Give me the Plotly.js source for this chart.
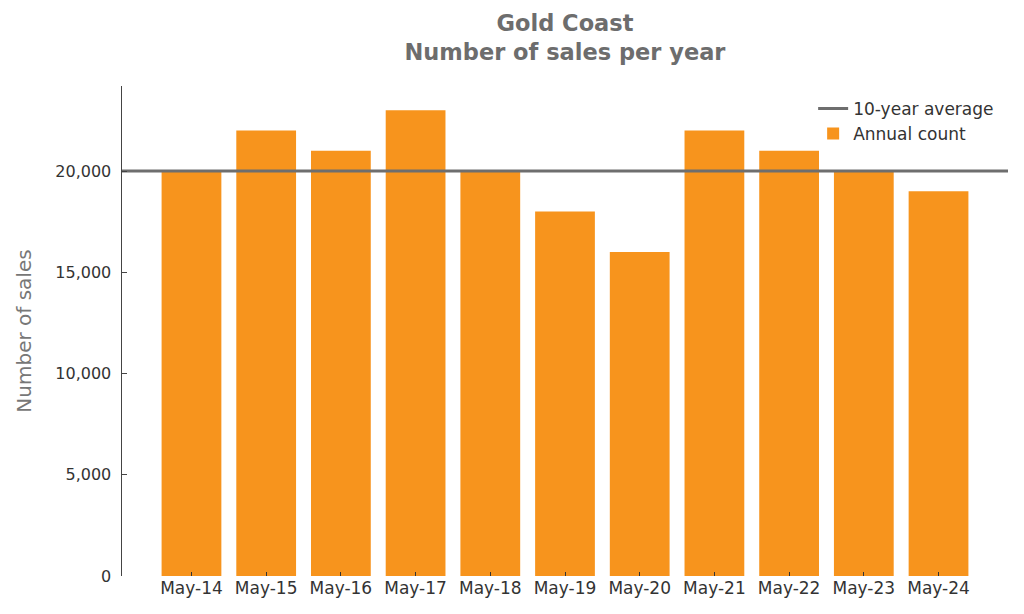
<!DOCTYPE html>
<html>
<head>
<meta charset="utf-8">
<script src="https://cdn.plot.ly/plotly-3.0.1.min.js"></script>
<style>html,body{margin:0;padding:0;background:#fff}#chart{width:1024px;height:614px}</style>
</head>
<body>
<div id="chart"></div>
<script>
const categories = ["May-14","May-15","May-16","May-17","May-18","May-19","May-20","May-21","May-22","May-23","May-24"];
const annualCount = [20000,22000,21000,23000,20000,18000,16000,22000,21000,20000,19000];
const tenYearAverage = 20000;
const yTickVals = [0,5000,10000,15000,20000];

const FONT = "DejaVu Sans, sans-serif";

const traces = [
  {
    type: "scatter", mode: "lines", name: "10-year average",
    x: [0, 1], y: [tenYearAverage, tenYearAverage],
    xaxis: "x2", yaxis: "y",
    line: {color: "#6e6e6e", width: 3},
    hoverinfo: "skip"
  },
  {
    type: "bar", name: "Annual count",
    x: categories, y: annualCount,
    marker: {color: "#F7941D"},
    width: 0.8
  }
];

const layout = {
  width: 1024, height: 614,
  paper_bgcolor: "#fff", plot_bgcolor: "#fff",
  margin: {l: 122, r: 16, t: 86, b: 38},
  font: {family: FONT, color: "#333", size: 16},
  title: {
    text: "<b>Gold Coast</b><br><b>Number of sales per year</b>",
    font: {family: FONT, size: 22.5, color: "#6d6d6d"},
    xref: "paper", x: 0.5, xanchor: "center",
    yref: "container", y: 0.95, yanchor: "top"
  },
  showlegend: true,
  legend: {
    x: 0.99, xanchor: "right", y: 0.99, yanchor: "top",
    bgcolor: "rgba(255,255,255,0)",
    font: {family: FONT, size: 17, color: "#333"},
    traceorder: "normal",
    tracegroupgap: 4
  },
  xaxis: {
    type: "category",
    range: [-0.93, 10.93],
    showline: false, showgrid: false, zeroline: false,
    ticks: "inside", ticklen: 4, tickwidth: 1, tickcolor: "#333",
    tickfont: {family: FONT, size: 17, color: "#333"},
    fixedrange: true
  },
  xaxis2: {
    overlaying: "x", range: [0, 1], visible: false, fixedrange: true
  },
  yaxis: {
    range: [0, 24200],
    tickvals: yTickVals,
    tickformat: ",d",
    showline: true, linecolor: "#444", linewidth: 1.5,
    showgrid: false, zeroline: false,
    ticks: "inside", ticklen: 5, tickwidth: 1, tickcolor: "#444",
    tickfont: {family: FONT, size: 16, color: "#333"},
    ticklabelstandoff: 6,
    title: {text: "Number of sales", font: {family: FONT, size: 20, color: "#777"}, standoff: 18},
    fixedrange: true
  },
  bargap: 0.2
};

Plotly.newPlot("chart", traces, layout, {displayModeBar: false, staticPlot: true});
</script>
</body>
</html>
